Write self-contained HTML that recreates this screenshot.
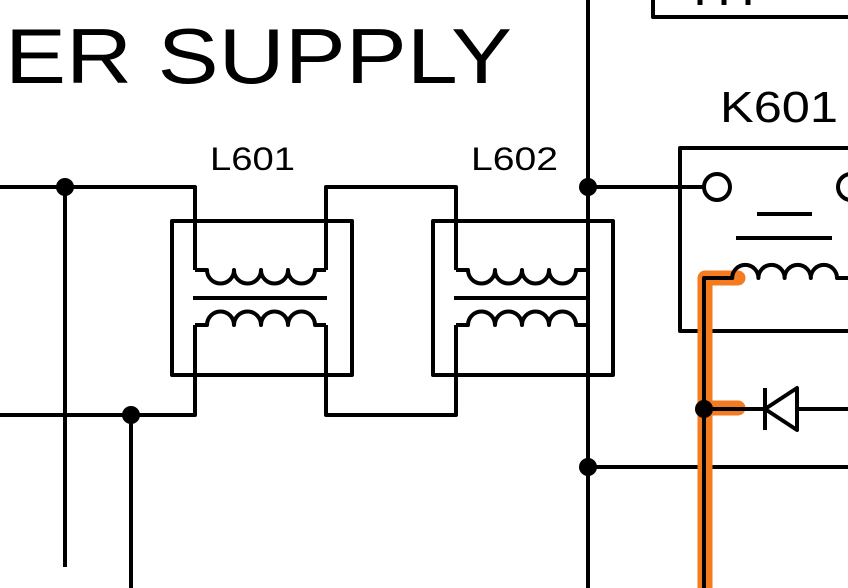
<!DOCTYPE html>
<html><head><meta charset="utf-8"><style>
html,body{margin:0;padding:0;background:#fff;width:848px;height:588px;overflow:hidden}
svg{display:block}
text{font-family:"Liberation Sans",Arial,sans-serif;fill:#000}
</style></head><body>
<svg width="848" height="588" viewBox="0 0 848 588" xmlns="http://www.w3.org/2000/svg">
<g fill="none" stroke="#000" stroke-width="4" stroke-linejoin="round">
<path d="M653,0 V17 H848"/>
<path d="M700,0 V5 M724,0 V5 M748,0 V5" stroke-width="5"/>
<path d="M0,187 H195 V270"/>
<path d="M0,415 H195 V325"/>
<path d="M65,187 V567"/>
<path d="M131,415 V588"/>
<rect x="172" y="221" width="180" height="154"/>
<path d="M195,270 H207 a13.5,13.5 0 0 0 27,0 a13.5,13.5 0 0 0 27,0 a13.5,13.5 0 0 0 27,0 a13.5,13.5 0 0 0 27,0 H326"/>
<path d="M193,298 H327"/>
<path d="M195,325 H207 a13.5,13.5 0 0 1 27,0 a13.5,13.5 0 0 1 27,0 a13.5,13.5 0 0 1 27,0 a13.5,13.5 0 0 1 27,0 H326"/>
<path d="M326,270 V187 H456 V270"/>
<path d="M326,325 V415 H456 V325"/>
<rect x="433" y="221" width="180" height="154"/>
<path d="M456,270 H468 a13.5,13.5 0 0 0 27,0 a13.5,13.5 0 0 0 27,0 a13.5,13.5 0 0 0 27,0 a13.5,13.5 0 0 0 27,0 H587"/>
<path d="M454,298 H588"/>
<path d="M456,325 H468 a13.5,13.5 0 0 1 27,0 a13.5,13.5 0 0 1 27,0 a13.5,13.5 0 0 1 27,0 a13.5,13.5 0 0 1 27,0 H587"/>
<path d="M588,0 V588"/>
<path d="M588,187 H703"/>
<path d="M588,467 H848"/>
<path d="M848,148 H680 V331 H848"/>
<circle cx="717" cy="187" r="13"/>
<circle cx="851" cy="187" r="13"/>
<path d="M757,214 H812 M736,238 H832"/>
</g>
<path d="M738,278 H705 V588 M705,408 H738" fill="none" stroke="#f47b20" stroke-width="15" stroke-linecap="round" stroke-linejoin="round"/>
<g fill="none" stroke="#000" stroke-width="4" stroke-linejoin="round">
<path d="M848,278 H837 a13.1,13.1 0 0 0 -26.2,0 a13.1,13.1 0 0 0 -26.2,0 a13.1,13.1 0 0 0 -26.2,0 a13.1,13.1 0 0 0 -26.2,0 H704 V588"/>
<path d="M704,409 H848"/>
<path d="M765,388 V430 M797,388 V430 L765,409 Z" fill="#fff"/>
</g>
<g fill="#000">
<circle cx="65" cy="187" r="9"/>
<circle cx="131" cy="415" r="9"/>
<circle cx="588" cy="187" r="9"/>
<circle cx="588" cy="467" r="9"/>
<circle cx="704" cy="409" r="9"/>
</g>
<text x="5" y="83" font-size="78" textLength="507" lengthAdjust="spacingAndGlyphs">ER SUPPLY</text>
<text x="210" y="170" font-size="32" textLength="85" lengthAdjust="spacingAndGlyphs">L601</text>
<text x="471" y="170" font-size="32" textLength="87" lengthAdjust="spacingAndGlyphs">L602</text>
<text x="720" y="122" font-size="44" textLength="118" lengthAdjust="spacingAndGlyphs">K601</text>
</svg>
</body></html>
